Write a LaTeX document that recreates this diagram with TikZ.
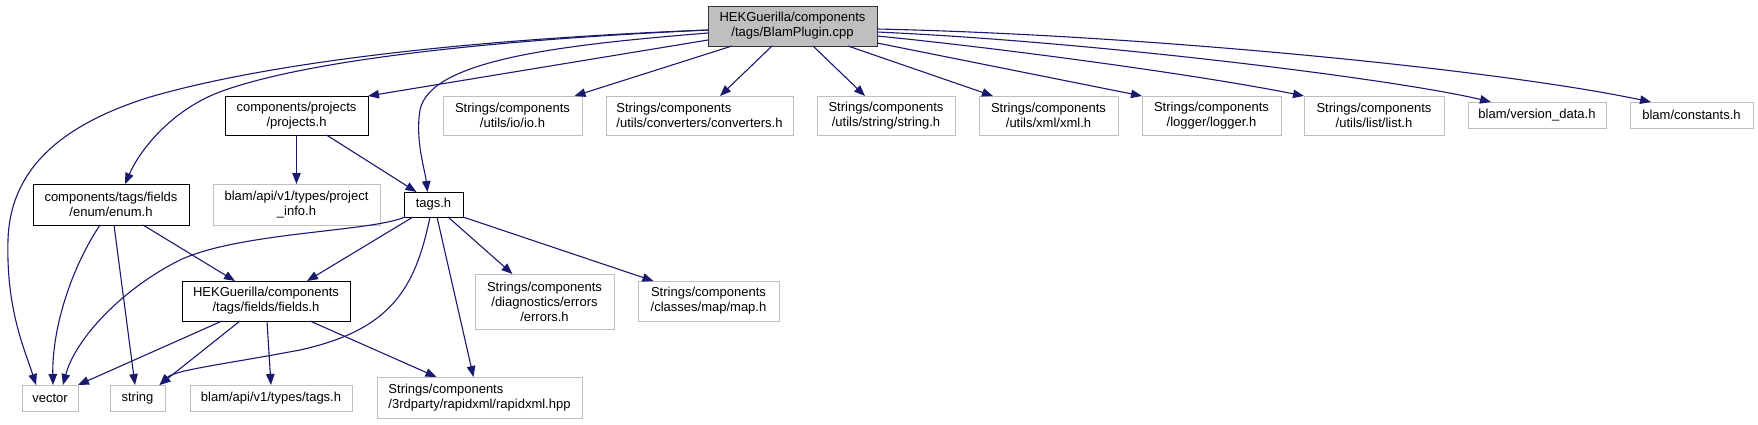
\documentclass[tikz,border=0pt]{standalone}
\usepackage{fontspec}
\setmainfont{Liberation Sans}
\usetikzlibrary{arrows.meta}
\definecolor{edgec}{HTML}{191970}
\definecolor{graybd}{HTML}{BFBFBF}
\begin{document}
\begin{tikzpicture}[x=1pt,y=-1pt,
 box/.style={rectangle, inner sep=0pt, outer sep=0pt, align=center, font=\fontsize{13}{15}\selectfont, line width=1pt},
 hbox/.style={box, draw=black, fill=white},
 gbox/.style={box, draw=graybd, fill=white},
 mbox/.style={box, draw=black!80, fill=graybd},
 dep/.style={draw=edgec, line width=1.1pt, -{Triangle[length=11pt,width=8.5pt]}}]
\useasboundingbox (0,0) rectangle (1758,424);

\node[mbox,minimum width=169pt,minimum height=40pt] (main) at (792.5,26) {HEKGuerilla/components\\/tags/BlamPlugin.cpp};
\node[hbox,minimum width=143pt,minimum height=39pt] (proj) at (296.5,115.5) {components/projects\\/projects.h};
\node[gbox,minimum width=139pt,minimum height=39pt] (io) at (512.5,115.5) {Strings/components\\/utils/io/io.h};
\node[gbox,align=left,minimum width=187pt,minimum height=39pt] (conv) at (699.5,115.5) {Strings/components\\/utils/converters/converters.h};
\node[gbox,minimum width=138pt,minimum height=39pt] (strh) at (886,115.5) {Strings/components\\/utils/string/string.h};
\node[gbox,minimum width=139pt,minimum height=39pt] (xml) at (1048.5,115.5) {Strings/components\\/utils/xml/xml.h};
\node[gbox,minimum width=139pt,minimum height=39pt] (logger) at (1211.5,115.5) {Strings/components\\/logger/logger.h};
\node[gbox,minimum width=140pt,minimum height=39pt] (list) at (1374,115.5) {Strings/components\\/utils/list/list.h};
\node[gbox,minimum width=138pt,minimum height=26pt] (ver) at (1537,115) {blam/version\_data.h};
\node[gbox,minimum width=123pt,minimum height=26pt] (consth) at (1691.5,115) {blam/constants.h};
\node[hbox,minimum width=156pt,minimum height=41pt] (enum) at (111,204.5) {components/tags/fields\\/enum/enum.h};
\node[gbox,minimum width=167pt,minimum height=41pt] (pinfo) at (296.5,204.5) {blam/api/v1/types/project\\\_info.h};
\node[hbox,minimum width=59pt,minimum height=25pt] (tagsh) at (433.5,204.5) {tags.h};
\node[hbox,minimum width=168pt,minimum height=40pt] (fields) at (266,301) {HEKGuerilla/components\\/tags/fields/fields.h};
\node[gbox,minimum width=139pt,minimum height=55pt] (errors) at (544.5,301.5) {Strings/components\\/diagnostics/errors\\/errors.h};
\node[gbox,minimum width=141pt,minimum height=40pt] (maph) at (708.5,301) {Strings/components\\/classes/map/map.h};
\node[gbox,minimum width=56pt,minimum height=26pt] (vector) at (50,398) {vector};
\node[gbox,minimum width=55pt,minimum height=26pt] (string) at (137.5,398) {string};
\node[gbox,minimum width=162pt,minimum height=26pt] (ttypes) at (271,398) {blam/api/v1/types/tags.h};
\node[gbox,align=left,minimum width=205pt,minimum height=41pt] (rapid) at (479.5,397.5) {Strings/components\\/3rdparty/rapidxml/rapidxml.hpp};

% from main
\draw[dep] ([yshift=-4pt]main.west) .. controls (450,40) and (260,65) .. (150,97) .. controls (60,125) and (10,170) .. (8,240) .. controls (6,310) and (25,350) .. ([xshift=-14pt]vector.north);
\draw[dep] ([yshift=-4pt]main.west) .. controls (450,42) and (290,65) .. (217,93) .. controls (170,112) and (140,150) .. ([xshift=14pt]enum.north);
\draw[dep] ([yshift=-14pt]main.west) -- (proj.north east);
\draw[dep] ([yshift=-7pt]main.west) .. controls (560,45) and (430,60) .. (420,110) .. controls (415,140) and (425,170) .. ([xshift=-6pt]tagsh.north);
\draw[dep] ([xshift=-60.5pt]main.south) -- ([xshift=62pt]io.north);
\draw[dep] ([xshift=-20.5pt]main.south) -- ([xshift=20.5pt]conv.north);
\draw[dep] ([xshift=20.5pt]main.south) -- ([xshift=-21pt]strh.north);
\draw[dep] ([xshift=55.5pt]main.south) -- ([xshift=-55.5pt]xml.north);
\draw[dep] ([yshift=-17pt]main.east) -- (logger.north west);
\draw[dep] ([yshift=-10pt]main.east) .. controls (1000,48) and (1200,75) .. (list.north west);
\draw[dep] ([yshift=-6pt]main.east) .. controls (1100,42) and (1400,80) .. ([xshift=-46pt]ver.north);
\draw[dep] ([yshift=-3pt]main.east) .. controls (1150,35) and (1500,70) .. ([xshift=-40.5pt]consth.north);

% from projects
\draw[dep] (proj.south) -- (pinfo.north);
\draw[dep] ([xshift=30pt]proj.south) -- ([xshift=-17pt]tagsh.north);

% from enum
\draw[dep] ([xshift=-11pt]enum.south) .. controls (70,270) and (52,330) .. ([xshift=3pt]vector.north);
\draw[dep] ([xshift=3pt]enum.south) -- ([xshift=-2.5pt]string.north);
\draw[dep] ([xshift=32pt]enum.south) -- ([xshift=-31pt]fields.north);

% from tags.h
\draw[dep] ([xshift=-28.5pt]tagsh.south) .. controls (370,232) and (240,232) .. (180,260) .. controls (120,290) and (75,340) .. ([xshift=13pt]vector.north);
\draw[dep] ([xshift=-20.5pt]tagsh.south) -- ([xshift=41pt]fields.north);
\draw[dep] ([xshift=-3.5pt]tagsh.south) .. controls (415,290) and (390,330) .. (300,350) .. controls (220,365) and (175,370) .. ([xshift=22pt]string.north);
\draw[dep] ([xshift=3.5pt]tagsh.south) -- ([xshift=-6pt]rapid.north);
\draw[dep] ([xshift=14.5pt]tagsh.south) -- ([xshift=-32pt]errors.north);
\draw[dep] (tagsh.south east) -- ([xshift=-55pt]maph.north);

% from fields
\draw[dep] ([xshift=-44pt]fields.south) -- (vector.north east);
\draw[dep] ([xshift=-26pt]fields.south) -- ([xshift=22pt]string.north);
\draw[dep] ([xshift=1pt]fields.south) -- (ttypes.north);
\draw[dep] ([xshift=44pt]fields.south) -- ([xshift=-43pt]rapid.north);
\end{tikzpicture}
\end{document}
